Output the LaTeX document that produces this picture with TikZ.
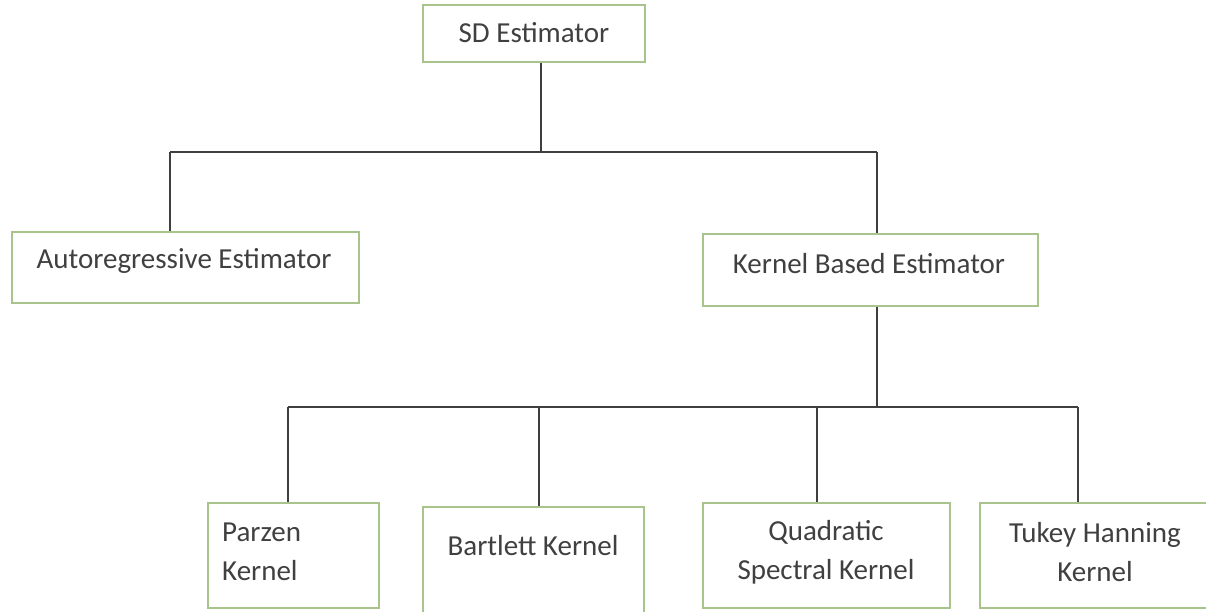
\documentclass[tikz,border=0pt]{standalone}
\usepackage{fontspec}
\setmainfont{Carlito}
\definecolor{boxgreen}{HTML}{A8C48C}
\definecolor{linegray}{HTML}{3F3F3F}
\definecolor{txtgray}{HTML}{404040}
\begin{document}
\begin{tikzpicture}[x=1pt,y=-1pt,
  box/.style={draw=boxgreen, line width=1.6pt, fill=white, rectangle, inner sep=0pt},
  lbl/.style={text=txtgray, font=\fontsize{29}{39}\selectfont, inner sep=0pt, align=center},
  conn/.style={draw=linegray, line width=2pt}]
\useasboundingbox[fill=white] (0,0) rectangle (1206,611);
% boxes
\node[box, minimum width=222pt, minimum height=57pt] (sd) at (534,33.5) {};
\node[box, minimum width=347pt, minimum height=71pt] (ar) at (185.5,267.5) {};
\node[box, minimum width=335pt, minimum height=72pt] (kb) at (870.5,270) {};
\node[box, minimum width=171pt, minimum height=105pt] (pz) at (293.5,555.5) {};
\node[box, minimum width=221pt, minimum height=110pt] (bt) at (533.5,562) {};
\node[box, minimum width=247pt, minimum height=105pt] (qs) at (826.5,555.5) {};
\node[box, minimum width=230pt, minimum height=105pt] (th) at (1095,555.5) {};
% labels
\node[lbl] (sdT) at (534,33) {SD Estimator};
\node[lbl] (arT) at (184,261) {Autoregressive Estimator};
\node[lbl] (kbT) at (869,264) {Kernel Based Estimator};
\node[lbl, align=left, anchor=west] (pzT) at (222,552) {Parzen\\Kernel};
\node[lbl] (btT) at (533,546) {Bartlett Kernel};
\node[lbl] (qsT) at (826,552) {Quadratic\\Spectral Kernel};
\node[lbl] (thT) at (1095,552) {Tukey Hanning\\Kernel};
% bus coordinates
\coordinate (b1) at (541,152);
\coordinate (b1l) at (170,152);
\coordinate (b1r) at (877,152);
\coordinate (b2) at (877,407);
\coordinate (b2a) at (288,407);
\coordinate (b2b) at (539,407);
\coordinate (b2c) at (817,407);
\coordinate (b2d) at (1078,407);
% connectors
\draw[conn] (sd.south -| b1) -- (b1);
\draw[conn] (b1l) -- (b1r);
\draw[conn] (b1l) -- (ar.north -| b1l);
\draw[conn] (b1r) -- (kb.north -| b1r);
\draw[conn] (kb.south -| b2) -- (b2);
\draw[conn] (b2a) -- (b2d);
\draw[conn] (b2a) -- (pz.north -| b2a);
\draw[conn] (b2b) -- (bt.north -| b2b);
\draw[conn] (b2c) -- (qs.north -| b2c);
\draw[conn] (b2d) -- (th.north -| b2d);
\end{tikzpicture}
\end{document}
